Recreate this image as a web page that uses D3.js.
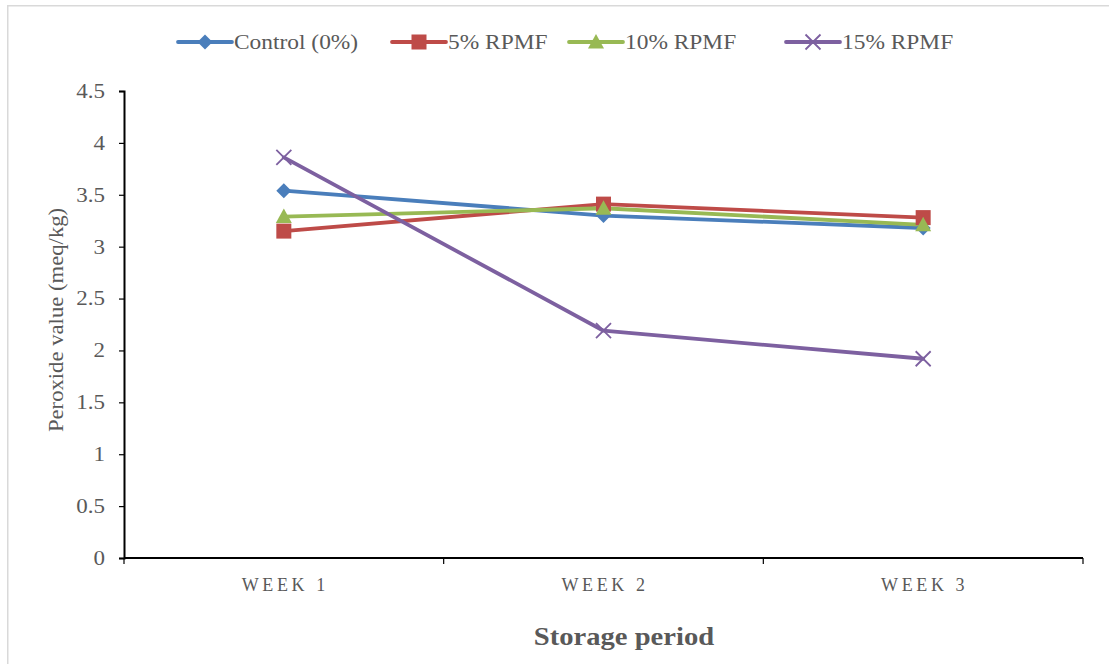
<!DOCTYPE html>
<html>
<head>
<meta charset="utf-8">
<script src="https://cdn.jsdelivr.net/npm/d3@7"></script>
<style>
  html, body { margin: 0; padding: 0; background: #fff; }
  svg { display: block; }
  svg text { font-family: "Liberation Serif", "Times New Roman", Times, "DejaVu Serif", serif; }
</style>
</head>
<body>
<svg id="chart" width="1109" height="664"></svg>
<script>
// Storage periods and peroxide values (meq/kg) per treatment
const weeks = ["WEEK 1", "WEEK 2", "WEEK 3"];
const seriesNames = ["Control (0%)", "5% RPMF", "10% RPMF", "15% RPMF"];
const controlValues = [3.54, 3.30, 3.18];
const rpmf5Values = [3.15, 3.41, 3.28];
const rpmf10Values = [3.29, 3.37, 3.21];
const rpmf15Values = [3.86, 2.19, 1.92];
const yTicks = [0, 0.5, 1, 1.5, 2, 2.5, 3, 3.5, 4, 4.5];

const colors = ["#4a7ebb", "#be4b48", "#98b954", "#7d60a0"];
const markers = ["diamond", "square", "triangle", "cross"];
const series = [controlValues, rpmf5Values, rpmf10Values, rpmf15Values].map((vals, i) => ({
  name: seriesNames[i], values: vals, color: colors[i], marker: markers[i]
}));

const svg = d3.select("#chart");
const margin = { left: 124, right: 1083, top: 91, bottom: 558 };

// widen glyphs along the baseline (text is set slightly wide)
function widen(sel, factor) {
  sel.each(function () {
    const w = this.getComputedTextLength();
    d3.select(this).attr("textLength", w * factor).attr("lengthAdjust", "spacingAndGlyphs");
  });
}

// outer frame
svg.append("path")
  .attr("d", "M1115,5.75 H7.75 V670")
  .attr("fill", "none").attr("stroke", "#d9d9d9").attr("stroke-width", 1.5);

const x = d3.scaleBand().domain(weeks).range([margin.left, margin.right]).padding(0);
const y = d3.scaleLinear().domain([0, 4.5]).range([margin.bottom, margin.top]);

// y axis
const yAxis = svg.append("g")
  .attr("transform", `translate(${margin.left},0)`)
  .call(d3.axisLeft(y).tickValues(yTicks).tickSize(5).tickPadding(14).tickFormat(d3.format("")));
yAxis.attr("font-family", null).attr("font-size", null);
yAxis.select(".domain").attr("stroke", "#000").attr("stroke-width", 2);
yAxis.selectAll(".tick line").attr("stroke", "#000").attr("stroke-width", 1.2);
yAxis.selectAll(".tick text")
  .attr("font-size", 20).attr("fill", "#595959");
widen(yAxis.selectAll(".tick text"), 1.15);

// x axis with ticks at category boundaries
const xAxisG = svg.append("g").attr("transform", `translate(0,${margin.bottom})`);
xAxisG.append("line")
  .attr("x1", margin.left).attr("x2", margin.right)
  .attr("stroke", "#000").attr("stroke-width", 2);
const boundaries = weeks.map(w => x(w)).concat([x(weeks[weeks.length - 1]) + x.bandwidth()]);
xAxisG.selectAll("line.tk").data(boundaries).join("line")
  .attr("class", "tk")
  .attr("x1", d => d).attr("x2", d => d).attr("y1", 0).attr("y2", 6)
  .attr("stroke", "#000").attr("stroke-width", 1.2);
xAxisG.selectAll("text").data(weeks).join("text")
  .attr("x", d => x(d) + x.bandwidth() / 2 + 1.5)
  .attr("y", 33)
  .attr("text-anchor", "middle")
  .attr("font-size", 18).attr("letter-spacing", 3.6).attr("fill", "#595959")
  .text(d => d);

// axis titles
const xTitle = svg.append("text")
  .attr("x", 624).attr("y", 645)
  .attr("text-anchor", "middle")
  .attr("font-size", 26).attr("font-weight", "bold").attr("fill", "#595959")
  .text("Storage period");
widen(xTitle, 1.1);
const yTitle = svg.append("text")
  .attr("transform", "translate(63,320) rotate(-90)")
  .attr("text-anchor", "middle")
  .attr("font-size", 21).attr("fill", "#595959")
  .text("Peroxide value (meq/kg)");
widen(yTitle, 1.08);

function drawMarker(g, type, color) {
  if (type === "diamond") {
    g.append("path").attr("d", "M0,-7.5 L7.5,0 L0,7.5 L-7.5,0 Z").attr("fill", color);
  } else if (type === "square") {
    g.append("rect").attr("x", -7.5).attr("y", -7.5).attr("width", 15).attr("height", 15).attr("fill", color);
  } else if (type === "triangle") {
    g.append("path").attr("d", "M0,-8 L8,6.5 L-8,6.5 Z").attr("fill", color);
  } else {
    g.append("path").attr("d", "M-7.5,-7.5 L7.5,7.5 M-7.5,7.5 L7.5,-7.5")
      .attr("stroke", color).attr("stroke-width", 1.8).attr("fill", "none");
  }
}

const line = d3.line()
  .x((d, i) => x(weeks[i]) + x.bandwidth() / 2)
  .y(d => y(d));

series.forEach(s => {
  svg.append("path")
    .attr("d", line(s.values))
    .attr("fill", "none").attr("stroke", s.color).attr("stroke-width", 3.8)
    .attr("stroke-linejoin", "round").attr("stroke-linecap", "round");
});
series.forEach(s => {
  s.values.forEach((v, i) => {
    const g = svg.append("g")
      .attr("transform", `translate(${x(weeks[i]) + x.bandwidth() / 2},${y(v)})`);
    drawMarker(g, s.marker, s.color);
  });
});

// legend
const legendX = [178, 392, 569, 786];
const legendY = 42;
series.forEach((s, i) => {
  const g = svg.append("g").attr("transform", `translate(${legendX[i]},${legendY})`);
  g.append("line").attr("x1", 0).attr("x2", 54)
    .attr("stroke", s.color).attr("stroke-width", 3.8).attr("stroke-linecap", "round");
  const m = g.append("g").attr("transform", "translate(27,0)");
  drawMarker(m, s.marker, s.color);
  const t = g.append("text").attr("x", 56).attr("y", 7)
    .attr("font-size", 20).attr("fill", "#595959")
    .text(s.name);
  widen(t, 1.17);
});
</script>
</body>
</html>
